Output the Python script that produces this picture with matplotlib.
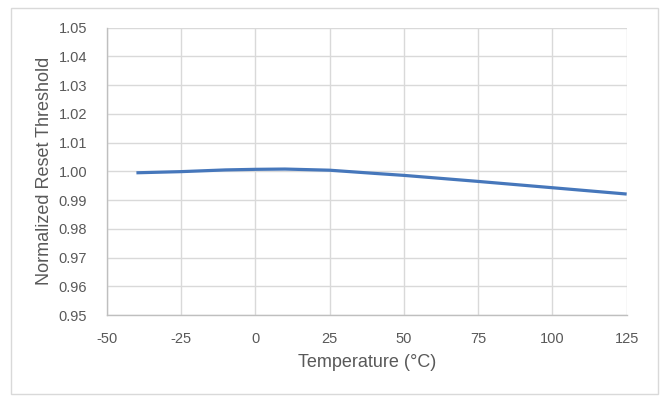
import matplotlib.pyplot as plt
from matplotlib.patches import Rectangle

# Werte
temperature = [-40, -25, -10, 0, 10, 25, 40, 50, 75, 100, 125]
threshold = [0.9995, 0.9999, 1.0005, 1.0007, 1.0008, 1.0004, 0.9993, 0.9986, 0.9965, 0.9943, 0.9921]

x_ticks = [-50, -25, 0, 25, 50, 75, 100, 125]
y_ticks = [0.95, 0.96, 0.97, 0.98, 0.99, 1.00, 1.01, 1.02, 1.03, 1.04, 1.05]

text_color = '#595959'
grid_color = '#d9d9d9'

plt.rcParams['font.family'] = ['Liberation Sans', 'DejaVu Sans']

fig = plt.figure(figsize=(6.64, 3.99), dpi=100)
ax = fig.add_axes([0.1607, 0.2105, 0.9438 - 0.1607, 0.9306 - 0.2105])

# Rahmen um die ganze Grafik
fig.patches.append(Rectangle((10.5 / 664, 1 - 394 / 399), 647.5 / 664, 386.5 / 399,
                             transform=fig.transFigure, fill=False,
                             edgecolor=grid_color, linewidth=1.0))

ax.plot(temperature, threshold, color='#4677bb', linewidth=2.3, solid_capstyle='butt')

ax.set_xlim(-50, 125)
ax.set_ylim(0.95, 1.05)
ax.set_xticks(x_ticks)
ax.set_yticks(y_ticks)
ax.set_xticklabels([str(t) for t in x_ticks])
ax.set_yticklabels([f'{v:.2f}' for v in y_ticks])

ax.grid(True, color=grid_color, linewidth=1.0)
ax.set_axisbelow(True)
for side in ['top', 'right']:
    ax.spines[side].set_visible(False)
for side in ['left', 'bottom']:
    ax.spines[side].set_color('#bfbfbf')
    ax.spines[side].set_linewidth(1.0)

ax.tick_params(axis='both', length=0, labelsize=10.5, colors=text_color)
ax.tick_params(axis='x', pad=12)
ax.tick_params(axis='y', pad=14)

ax.set_xlabel('Temperature (°C)', fontsize=13, color=text_color, labelpad=6)
ax.set_ylabel('Normalized Reset Threshold', fontsize=13, color=text_color, labelpad=4)

fig.savefig('out.png', dpi=100)
